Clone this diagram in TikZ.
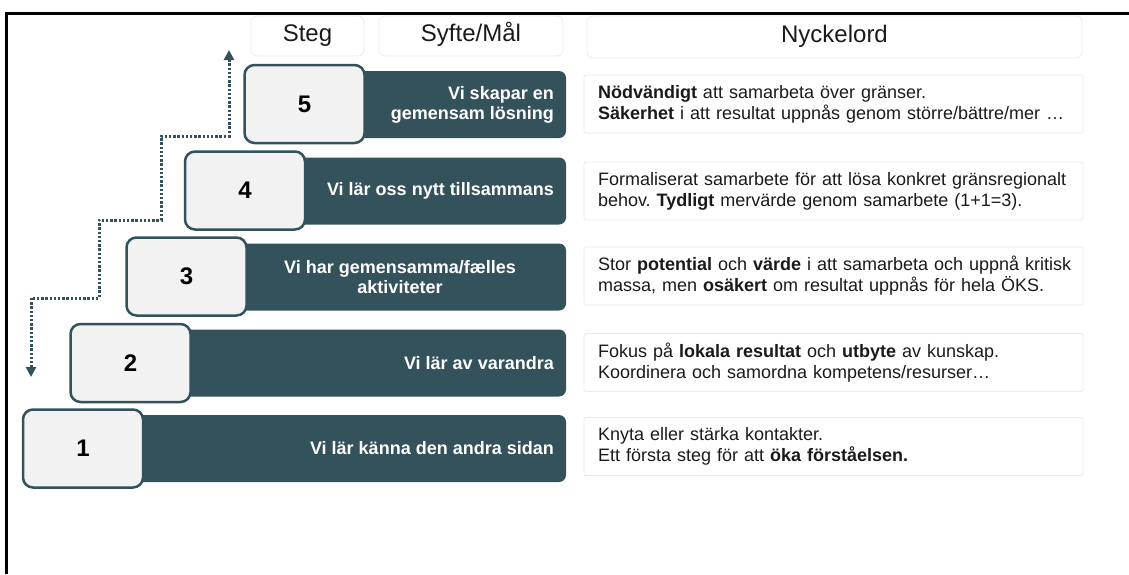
\documentclass[tikz,border=0pt]{standalone}
\usepackage{fontspec}
\setmainfont{Liberation Sans}
\usetikzlibrary{arrows.meta}
\frenchspacing
\definecolor{stegteal}{RGB}{51,82,92}
\definecolor{stegljus}{RGB}{242,242,242}
\definecolor{ramgra}{RGB}{234,234,234}
\definecolor{textgra}{RGB}{26,26,26}

\tikzset{
  bar/.style={fill=stegteal, rounded corners=7pt, minimum height=67pt, inner sep=0pt},
  stegruta/.style={draw=stegteal, line width=2.5pt, fill=stegljus, rounded corners=10pt,
    minimum width=120pt, minimum height=78pt, inner sep=0pt, text=black,
    font=\bfseries\fontsize{24}{28}\selectfont},
  syfte/.style={text=white, inner sep=0pt, anchor=east, align=right,
    font=\bfseries\fontsize{18}{20}\selectfont},
  nyckel/.style={draw=ramgra, line width=0.8pt, rounded corners=2pt, minimum height=58pt,
    text width=471pt, inner xsep=14pt, align=left, text=textgra,
    font=\fontsize{18}{21}\selectfont},
  rubrik/.style={draw=ramgra, line width=0.8pt, rounded corners=6pt, minimum height=40pt,
    text=textgra, font=\fontsize{24}{28}\selectfont},
  trappa/.style={draw=stegteal, line width=3pt, dash pattern=on 2.4pt off 1.8pt,
    {Triangle[width=10pt,length=10pt]}-{Triangle[width=10pt,length=10pt]}}
}

\begin{document}
\begin{tikzpicture}[x=1pt,y=-1pt]
  \useasboundingbox (0,0) rectangle (1129,574);
  \draw[line width=3pt] (6.5,574) -- (6.5,13) -- (1129,13);

  \node[rubrik, minimum width=113pt] (hsteg) at (307.5,36) {\strut Steg};
  \node[rubrik, minimum width=184pt] (hsyfte) at (471,36) {\strut Syfte/Mål};
  \node[rubrik, minimum width=495pt, minimum height=42pt] (hnyckel) at (834.5,37) {\strut Nyckelord};

  \node[bar, minimum width=262pt] (bar5) at (435,104.5) {};
  \node[bar, minimum width=321pt] (bar4) at (405.5,191) {};
  \node[bar, minimum width=380pt] (bar3) at (376,277) {};
  \node[bar, minimum width=436pt] (bar2) at (348,363) {};
  \node[bar, minimum width=483pt] (bar1) at (324.5,448.5) {};

  \node[stegruta] (steg5) at (304.5,104) {5};
  \node[stegruta] (steg4) at (245,190.5) {4};
  \node[stegruta] (steg3) at (186.5,276.5) {3};
  \node[stegruta] (steg2) at (130.5,363) {2};
  \node[stegruta] (steg1) at (83,448.5) {1};

  \node[syfte] (syfte5) at (554,104.5) {Vi skapar en\\gemensam lösning};
  \node[syfte] (syfte4) at (554,191) {Vi lär oss nytt tillsammans};
  \node[syfte, anchor=center, align=center] (syfte3) at (400,277) {Vi har gemensamma/fælles\\aktiviteter};
  \node[syfte] (syfte2) at (554,363) {Vi lär av varandra};
  \node[syfte] (syfte1) at (554,448.5) {Vi lär känna den andra sidan};

  \node[nyckel] (nyckel5) at (833.5,104) {\mbox{\textbf{Nödvändigt} att samarbeta över gränser.}\\\mbox{\textbf{Säkerhet} i att resultat uppnås genom större/bättre/mer …}};
  \node[nyckel] (nyckel4) at (833.5,191) {\mbox{Formaliserat samarbete för att lösa konkret gränsregionalt}\\\mbox{behov. \textbf{Tydligt} mervärde genom samarbete (1+1=3).}};
  \node[nyckel] (nyckel3) at (833.5,276) {\mbox{Stor \textbf{potential} och \textbf{värde} i att samarbeta och uppnå kritisk}\\\mbox{massa, men \textbf{osäkert} om resultat uppnås för hela ÖKS.}};
  \node[nyckel] (nyckel2) at (833.5,362.5) {\mbox{Fokus på \textbf{lokala resultat} och \textbf{utbyte} av kunskap.}\\\mbox{Koordinera och samordna kompetens/resurser…}};
  \node[nyckel] (nyckel1) at (833.5,446.5) {\mbox{Knyta eller stärka kontakter.}\\\mbox{Ett första steg för att \textbf{öka förståelsen.}}};

  \coordinate (pilner) at (31,377);
  \coordinate (pilupp) at (229,50);
  \draw[trappa] (pilner) -- (31,298) -- (99,298) -- (99,220) -- (161,220) -- (161,136) -- (229,136) -- (pilupp);
\end{tikzpicture}
\end{document}
